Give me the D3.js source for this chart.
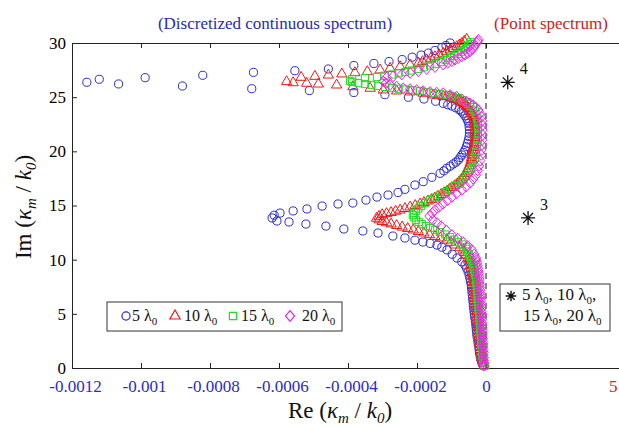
<!DOCTYPE html>
<html><head><meta charset="utf-8">
<script src="https://cdn.jsdelivr.net/npm/d3@7"></script>
<style>body{margin:0;background:#fff}svg{display:block}</style>
</head><body><svg id="c" width="619" height="429"></svg>
<script>
// ---------- data ----------
const xTicks = [-0.0012, -0.001, -0.0008, -0.0006, -0.0004, -0.0002, 0];
const xTickLabels = ["-0.0012", "-0.001", "-0.0008", "-0.0006", "-0.0004", "-0.0002", "0"];
const yTicks = [0, 5, 10, 15, 20, 25, 30];
const seriesLabels = ["5", "10", "15", "20"];

// [Re(kappa_m/k0), Im(kappa_m/k0)] for 5 lambda0 (blue circles)
const lambda5 = [[-0.08e-4,0.2],[-0.12e-4,0.5],[-0.15e-4,0.8],[-0.17e-4,1.1],[-0.19e-4,1.4],[-0.20e-4,1.7],[-0.21e-4,2.0],[-0.23e-4,2.3],[-0.24e-4,2.6],[-0.26e-4,2.9],[-0.27e-4,3.2],[-0.28e-4,3.5],[-0.29e-4,3.8],[-0.30e-4,4.1],[-0.31e-4,4.4],[-0.33e-4,4.7],[-0.34e-4,5.0],[-0.35e-4,5.3],[-0.36e-4,5.6],[-0.37e-4,5.9],[-0.38e-4,6.2],[-0.39e-4,6.5],[-0.40e-4,6.8],[-0.41e-4,7.1],[-0.42e-4,7.4],[-0.43e-4,7.7],[-0.45e-4,8.0],[-0.47e-4,8.3],[-0.49e-4,8.6],[-0.52e-4,8.9],[-0.56e-4,9.2],
[-0.61e-4,9.5],[-0.70e-4,9.8],[-0.84e-4,10.15],[-0.98e-4,10.5],[-1.13e-4,10.9],[-1.28e-4,11.15],[-1.42e-4,11.35],[-1.62e-4,11.5],[-1.83e-4,11.63],[-2.06e-4,11.8],[-2.35e-4,12.0],[-2.70e-4,12.18],[-3.13e-4,12.46],[-3.57e-4,12.65],[-4.12e-4,12.83],[-4.64e-4,13.1],[-5.22e-4,13.29],[-5.71e-4,13.48],[-6.06e-4,13.57],[-6.20e-4,13.85],[-6.14e-4,14.1],[-5.97e-4,14.3],[-5.59e-4,14.5],[-5.19e-4,14.68],[-4.75e-4,14.95],[-4.29e-4,15.14],[-3.86e-4,15.23],[-3.48e-4,15.5],[-3.16e-4,15.78],[-2.84e-4,15.97],[-2.55e-4,16.2],[-2.35e-4,16.49],[-2.06e-4,16.89],[-1.82e-4,17.2],[-1.57e-4,17.6],[-1.33e-4,17.97],[-1.22e-4,18.2],[-1.14e-4,18.43],[-1.04e-4,18.63],[-0.95e-4,18.83],[-0.87e-4,19.0],[-0.80e-4,19.2],[-0.75e-4,19.43],[-0.70e-4,19.66],[-0.65e-4,19.9],[-0.61e-4,20.12],[-0.57e-4,20.43],[-0.54e-4,20.74],[-0.51e-4,21.05],[-0.49e-4,21.35],[-0.48e-4,21.66],[-0.48e-4,21.97],[-0.49e-4,22.28],[-0.50e-4,22.59],[-0.53e-4,22.82],[-0.56e-4,23.05],[-0.61e-4,23.28],[-0.66e-4,23.51],[-0.72e-4,23.7],[-0.78e-4,23.86],[-0.88e-4,24.02],[-0.99e-4,24.18],[-1.11e-4,24.3],[-1.24e-4,24.43],[-1.46e-4,24.62],[-1.80e-4,24.83],[-2.25e-4,24.99],[-2.93e-4,25.23],[-3.83e-4,25.43],[-5.12e-4,25.61],[-6.79e-4,25.78],[-8.80e-4,26.03],[-10.65e-4,26.22],[-11.57e-4,26.37],[-11.21e-4,26.65],[-9.88e-4,26.8],[-8.21e-4,27.02],[-6.74e-4,27.29],[-5.54e-4,27.44],[-4.57e-4,27.6],[-3.83e-4,27.92],[-3.25e-4,28.11],[-2.81e-4,28.29],[-2.43e-4,28.47],[-2.14e-4,28.69],[-1.88e-4,28.89],[-1.67e-4,29.07],[-1.48e-4,29.31],[-1.28e-4,29.58],[-1.16e-4,29.77],[-1.04e-4,30.0]];

// 10 lambda0 (red triangles)
const lambda10 = [[-0.05e-4,0.2],[-0.08e-4,0.45],[-0.10e-4,0.7],[-0.12e-4,0.95],[-0.13e-4,1.2],[-0.14e-4,1.45],[-0.16e-4,1.7],[-0.17e-4,1.95],[-0.18e-4,2.2],[-0.18e-4,2.45],[-0.19e-4,2.7],[-0.20e-4,2.95],[-0.21e-4,3.2],[-0.22e-4,3.45],[-0.23e-4,3.7],[-0.24e-4,3.95],[-0.24e-4,4.2],[-0.25e-4,4.45],[-0.26e-4,4.7],[-0.27e-4,4.95],[-0.28e-4,5.2],[-0.28e-4,5.45],[-0.29e-4,5.7],[-0.30e-4,5.95],[-0.31e-4,6.2],[-0.32e-4,6.45],[-0.32e-4,6.7],[-0.33e-4,6.95],[-0.34e-4,7.2],[-0.35e-4,7.45],[-0.36e-4,7.7],[-0.36e-4,7.95],[-0.37e-4,8.2],[-0.38e-4,8.45],[-0.40e-4,8.7],[-0.41e-4,8.95],[-0.43e-4,9.2],[-0.45e-4,9.45],[-0.47e-4,9.7],[-0.50e-4,9.95],[-0.52e-4,10.15],[-0.58e-4,10.4],[-0.62e-4,10.65],[-0.66e-4,10.89],[-0.76e-4,11.1],[-0.90e-4,11.35],[-1.02e-4,11.6],[-1.14e-4,11.81],[-1.32e-4,12.0],[-1.48e-4,12.14],[-1.64e-4,12.3],[-1.80e-4,12.46],[-1.96e-4,12.6],[-2.11e-4,12.74],[-2.27e-4,12.88],[-2.43e-4,13.01],[-2.59e-4,13.15],[-2.75e-4,13.29],[-2.88e-4,13.4],[-3.01e-4,13.52],[-3.10e-4,13.67],[-3.17e-4,13.82],[-3.10e-4,14.0],[-3.01e-4,14.15],[-2.88e-4,14.25],[-2.75e-4,14.35],[-2.62e-4,14.47],[-2.49e-4,14.58],[-2.35e-4,14.72],[-2.20e-4,14.86],[-2.05e-4,15.0],[-1.91e-4,15.14],[-1.80e-4,15.28],[-1.68e-4,15.41],[-1.58e-4,15.55],[-1.48e-4,15.69],[-1.39e-4,15.85],[-1.30e-4,16.01],[-1.21e-4,16.18],[-1.13e-4,16.34],[-1.06e-4,16.5],[-0.99e-4,16.66],[-0.91e-4,16.82],[-0.84e-4,16.98],[-0.78e-4,17.17],[-0.72e-4,17.35],[-0.68e-4,17.53],[-0.64e-4,17.72],[-0.59e-4,17.95],[-0.55e-4,18.18],[-0.52e-4,18.42],[-0.49e-4,18.65],[-0.46e-4,18.92],[-0.43e-4,19.2],[-0.42e-4,19.43],[-0.41e-4,19.66],[-0.39e-4,19.9],[-0.38e-4,20.12],[-0.36e-4,20.35],[-0.35e-4,20.58],[-0.34e-4,20.8],[-0.33e-4,21.04],[-0.32e-4,21.27],[-0.32e-4,21.5],[-0.32e-4,21.75],[-0.32e-4,21.97],[-0.32e-4,22.2],[-0.32e-4,22.43],[-0.33e-4,22.6],[-0.33e-4,22.8],[-0.35e-4,23.0],[-0.36e-4,23.17],[-0.38e-4,23.33],[-0.41e-4,23.49],[-0.43e-4,23.65],[-0.46e-4,23.8],[-0.50e-4,23.95],[-0.54e-4,24.09],[-0.57e-4,24.23],[-0.61e-4,24.37],[-0.66e-4,24.46],[-0.71e-4,24.55],[-0.76e-4,24.65],[-0.81e-4,24.74],[-0.87e-4,24.81],[-0.93e-4,24.88],[-0.98e-4,24.95],[-1.04e-4,25.01],[-1.14e-4,25.04],[-1.24e-4,25.06],[-1.38e-4,25.13],[-1.53e-4,25.2],[-1.82e-4,25.36],[-2.20e-4,25.48],[-2.59e-4,25.57],[-2.98e-4,25.66],[-3.36e-4,25.82],[-3.86e-4,25.96],[-4.33e-4,26.12],[-4.86e-4,26.21],[-5.20e-4,26.28],[-5.59e-4,26.33],[-5.78e-4,26.43],[-5.36e-4,26.83],[-4.96e-4,26.92],[-4.57e-4,27.04],[-4.18e-4,27.14],[-3.80e-4,27.26],[-3.44e-4,27.35],[-3.07e-4,27.51],[-2.78e-4,27.66],[-2.49e-4,27.81],[-2.20e-4,27.97],[-1.96e-4,28.12],[-1.84e-4,28.28],[-1.72e-4,28.43],[-1.60e-4,28.58],[-1.48e-4,28.73],[-1.36e-4,28.9],[-1.24e-4,29.05],[-1.14e-4,29.2],[-1.04e-4,29.35],[-0.95e-4,29.5],[-0.85e-4,29.66],[-0.77e-4,29.82],[-0.70e-4,29.97],[-0.63e-4,30.15],[-0.56e-4,30.34]];

// 15 lambda0 (green squares)
const lambda15 = [[-0.04e-4,0.2],[-0.06e-4,0.45],[-0.08e-4,0.7],[-0.09e-4,0.95],[-0.10e-4,1.2],[-0.11e-4,1.45],[-0.11e-4,1.7],[-0.12e-4,1.95],[-0.13e-4,2.2],[-0.13e-4,2.45],[-0.14e-4,2.7],[-0.15e-4,2.95],[-0.15e-4,3.2],[-0.16e-4,3.45],[-0.17e-4,3.7],[-0.17e-4,3.95],[-0.18e-4,4.2],[-0.18e-4,4.45],[-0.19e-4,4.7],[-0.20e-4,4.95],[-0.20e-4,5.2],[-0.21e-4,5.45],[-0.22e-4,5.7],[-0.22e-4,5.95],[-0.23e-4,6.2],[-0.24e-4,6.45],[-0.24e-4,6.7],[-0.25e-4,6.95],[-0.26e-4,7.2],[-0.26e-4,7.45],[-0.27e-4,7.7],[-0.28e-4,7.95],[-0.29e-4,8.2],[-0.30e-4,8.45],[-0.32e-4,8.7],[-0.33e-4,8.95],[-0.35e-4,9.2],[-0.36e-4,9.45],[-0.39e-4,9.7],[-0.42e-4,9.95],[-0.46e-4,10.25],[-0.50e-4,10.5],[-0.54e-4,10.75],[-0.56e-4,11.0],[-0.58e-4,11.17],[-0.69e-4,11.4],[-0.81e-4,11.63],[-0.92e-4,11.86],[-1.04e-4,12.09],[-1.18e-4,12.32],[-1.33e-4,12.55],[-1.48e-4,12.74],[-1.62e-4,12.92],[-1.74e-4,13.1],[-1.86e-4,13.29],[-1.95e-4,13.48],[-2.03e-4,13.66],[-2.09e-4,13.9],[-2.12e-4,14.12],[-2.08e-4,14.3],[-2.03e-4,14.49],[-1.96e-4,14.72],[-1.88e-4,14.95],[-1.75e-4,15.22],[-1.62e-4,15.5],[-1.48e-4,15.74],[-1.33e-4,15.97],[-1.19e-4,16.24],[-1.04e-4,16.52],[-0.91e-4,16.8],[-0.78e-4,17.08],[-0.68e-4,17.4],[-0.58e-4,17.72],[-0.50e-4,18.1],[-0.43e-4,18.46],[-0.37e-4,18.92],[-0.32e-4,19.38],[-0.29e-4,19.9],[-0.26e-4,20.49],[-0.24e-4,21.05],[-0.23e-4,21.6],[-0.23e-4,22.1],[-0.23e-4,22.61],[-0.25e-4,23.03],[-0.28e-4,23.44],[-0.33e-4,23.77],[-0.38e-4,24.09],[-0.46e-4,24.32],[-0.55e-4,24.55],[-0.68e-4,24.74],[-0.81e-4,24.92],[-0.98e-4,25.06],[-1.16e-4,25.2],[-1.35e-4,25.29],[-1.54e-4,25.38],[-1.72e-4,25.48],[-1.91e-4,25.57],[-2.13e-4,25.64],[-2.35e-4,25.71],[-2.53e-4,25.78],[-2.72e-4,25.84],[-2.92e-4,25.94],[-3.13e-4,26.03],[-3.32e-4,26.12],[-3.51e-4,26.21],[-3.70e-4,26.3],[-3.88e-4,26.4],[-3.94e-4,26.5],[-3.88e-4,26.68],[-3.51e-4,26.77],[-3.16e-4,26.86],[-2.94e-4,26.98],[-2.72e-4,27.09],[-2.53e-4,27.2],[-2.35e-4,27.32],[-2.16e-4,27.46],[-1.97e-4,27.6],[-1.80e-4,27.76],[-1.62e-4,27.92],[-1.46e-4,28.08],[-1.30e-4,28.24],[-1.17e-4,28.42],[-1.04e-4,28.61],[-0.92e-4,28.8],[-0.81e-4,28.98],[-0.72e-4,29.16],[-0.64e-4,29.35],[-0.58e-4,29.53],[-0.52e-4,29.72],[-0.47e-4,29.9],[-0.43e-4,30.09]];

// 20 lambda0 (magenta diamonds)
const lambda20 = [[-0.05e-4,0.2],[-0.05e-4,0.45],[-0.06e-4,0.7],[-0.06e-4,0.95],[-0.07e-4,1.2],[-0.07e-4,1.45],[-0.08e-4,1.7],[-0.08e-4,1.95],[-0.08e-4,2.2],[-0.09e-4,2.45],[-0.09e-4,2.7],[-0.10e-4,2.95],[-0.10e-4,3.2],[-0.10e-4,3.45],[-0.11e-4,3.7],[-0.11e-4,3.95],[-0.12e-4,4.2],[-0.12e-4,4.45],[-0.12e-4,4.7],[-0.13e-4,4.95],[-0.13e-4,5.2],[-0.14e-4,5.45],[-0.14e-4,5.7],[-0.15e-4,5.95],[-0.15e-4,6.2],[-0.16e-4,6.45],[-0.16e-4,6.7],[-0.17e-4,6.95],[-0.17e-4,7.2],[-0.18e-4,7.45],[-0.18e-4,7.7],[-0.19e-4,7.95],[-0.19e-4,8.2],[-0.20e-4,8.45],[-0.21e-4,8.7],[-0.22e-4,8.95],[-0.23e-4,9.2],[-0.25e-4,9.45],[-0.26e-4,9.7],[-0.28e-4,9.95],[-0.29e-4,10.15],[-0.34e-4,10.5],[-0.41e-4,10.9],[-0.52e-4,11.25],[-0.67e-4,11.63],[-0.82e-4,11.95],[-0.99e-4,12.28],[-1.15e-4,12.7],[-1.30e-4,13.1],[-1.42e-4,13.4],[-1.54e-4,13.66],[-1.64e-4,14.03],[-1.56e-4,14.3],[-1.48e-4,14.58],[-1.36e-4,14.86],[-1.25e-4,15.14],[-1.12e-4,15.46],[-0.99e-4,15.78],[-0.85e-4,16.1],[-0.70e-4,16.43],[-0.58e-4,16.75],[-0.46e-4,17.08],[-0.37e-4,17.45],[-0.29e-4,17.81],[-0.24e-4,18.23],[-0.20e-4,18.65],[-0.17e-4,19.15],[-0.14e-4,19.66],[-0.13e-4,20.12],[-0.12e-4,20.58],[-0.11e-4,21.04],[-0.10e-4,21.5],[-0.10e-4,21.96],[-0.10e-4,22.43],[-0.11e-4,22.8],[-0.13e-4,23.17],[-0.17e-4,23.5],[-0.22e-4,23.81],[-0.30e-4,24.05],[-0.38e-4,24.27],[-0.47e-4,24.43],[-0.56e-4,24.58],[-0.70e-4,24.8],[-0.85e-4,25.04],[-1.04e-4,25.2],[-1.24e-4,25.36],[-1.43e-4,25.42],[-1.62e-4,25.48],[-1.82e-4,25.57],[-2.01e-4,25.66],[-2.20e-4,25.74],[-2.40e-4,25.82],[-2.59e-4,25.97],[-2.78e-4,26.12],[-2.90e-4,26.3],[-2.98e-4,26.46],[-2.88e-4,26.81],[-2.69e-4,26.92],[-2.44e-4,27.09],[-2.20e-4,27.23],[-1.96e-4,27.39],[-1.72e-4,27.6],[-1.48e-4,27.78],[-1.24e-4,28.01],[-1.11e-4,28.16],[-0.99e-4,28.31],[-0.90e-4,28.46],[-0.80e-4,28.61],[-0.70e-4,28.76],[-0.61e-4,28.92],[-0.53e-4,29.08],[-0.46e-4,29.23],[-0.40e-4,29.42],[-0.35e-4,29.6],[-0.31e-4,29.8],[-0.27e-4,30.0],[-0.24e-4,30.15],[-0.22e-4,30.3]];

// point spectrum (same for all lengths): [Re, Im, mode index]
const pointSpectrum = [[0.63e-4, 26.37, "4"], [1.22e-4, 13.85, "3"]];

// ---------- drawing ----------
const SERIF = "'Liberation Serif','Times New Roman',Times,serif";
const svg = d3.select("#c");
const x = d3.scaleLinear().domain([-0.0012, 0.0004]).range([72, 624]);
const y = d3.scaleLinear().domain([0, 30]).range([368, 43]);

// axes
const gB = svg.append("g").attr("transform", `translate(0,${y(0)})`)
  .call(d3.axisBottom(x).tickValues(xTicks).tickFormat((d, i) => xTickLabels[i])
    .tickSizeInner(-5).tickSizeOuter(0).tickPadding(12));
gB.attr("font-family", null).attr("font-size", null);
gB.selectAll("text").style("font-family", SERIF).style("font-size", "17px").attr("fill", "#2a2ad0")
  .attr("dx", d => d === 0 ? 0 : 3);
const gT = svg.append("g").attr("transform", `translate(0,${y(30)})`)
  .call(d3.axisTop(x).tickValues(xTicks).tickFormat("").tickSizeInner(-5).tickSizeOuter(0));
const gL = svg.append("g").attr("transform", `translate(${x(-0.0012)},0)`)
  .call(d3.axisLeft(y).tickValues(yTicks).tickFormat(d3.format("d"))
    .tickSizeInner(-5).tickSizeOuter(0).tickPadding(6));
gL.attr("font-family", null).attr("font-size", null);
gL.selectAll("text").style("font-family", SERIF).style("font-size", "17px").attr("fill", "#000");
[gB, gT, gL].forEach(g => { g.selectAll("line,path").attr("stroke", "#222"); });

// red label of the point-spectrum axis at the right edge
svg.append("text").attr("x", 609).attr("y", 392).style("font-family", SERIF)
  .style("font-size", "17px").attr("fill", "#e02020").text("5");

// zero line
svg.append("line").attr("x1", x(0)).attr("x2", x(0)).attr("y1", y(30)).attr("y2", y(0))
  .attr("stroke", "#111").attr("stroke-width", 1).attr("stroke-dasharray", "6,4");

// symbols
const diamondType = { draw(ctx, size) { const w = 4.6, h = 5.4; ctx.moveTo(0, -h); ctx.lineTo(w, 0); ctx.lineTo(0, h); ctx.lineTo(-w, 0); ctx.closePath(); } };
const asteriskType = { draw(ctx, size) { const r = Math.sqrt(size) / 2; const d = r * Math.SQRT1_2;
  ctx.moveTo(-r, 0); ctx.lineTo(r, 0); ctx.moveTo(0, -r); ctx.lineTo(0, r);
  ctx.moveTo(-d, -d); ctx.lineTo(d, d); ctx.moveTo(-d, d); ctx.lineTo(d, -d); } };
const circleSym = d3.symbol().type(d3.symbolCircle).size(52);
const triSym = d3.symbol().type(d3.symbolTriangle).size(46);
const squareSym = d3.symbol().type(d3.symbolSquare).size(52);
const diamondSym = d3.symbol().type(diamondType).size(60);

const series = [
  { data: lambda5, color: "#2a2ad6", sym: circleSym },
  { data: lambda10, color: "#f01818", sym: triSym },
  { data: lambda15, color: "#22dd22", sym: squareSym },
  { data: lambda20, color: "#f020f0", sym: diamondSym }
];
series.forEach(s => {
  svg.append("g").selectAll("path").data(s.data).join("path")
    .attr("transform", d => `translate(${x(d[0])},${y(d[1])})`)
    .attr("d", s.sym()).attr("fill", "none").attr("stroke", s.color).attr("stroke-width", 1);
});

// point spectrum stars
const starSym = d3.symbol().type(asteriskType).size(196);
svg.append("g").selectAll("path").data(pointSpectrum).join("path")
  .attr("transform", d => `translate(${x(d[0])},${y(d[1])})`)
  .attr("d", starSym()).attr("fill", "none").attr("stroke", "#111").attr("stroke-width", 1.3);
svg.append("g").selectAll("text").data(pointSpectrum).join("text")
  .attr("x", d => x(d[0]) + 12).attr("y", d => y(d[1]) - 8)
  .style("font-family", SERIF).style("font-size", "16px").attr("fill", "#111").text(d => d[2]);

// titles
svg.append("text").attr("x", 275).attr("y", 29).attr("text-anchor", "middle")
  .style("font-family", SERIF).style("font-size", "17px").attr("fill", "#2a2ab8")
  .text("(Discretized continuous spectrum)");
svg.append("text").attr("x", 551).attr("y", 29).attr("text-anchor", "middle")
  .style("font-family", SERIF).style("font-size", "17px").attr("fill", "#d02020")
  .text("(Point spectrum)");

// rich text helper: parts = [text, sub?, italic?]
function rich(sel, parts, subSize, drop) {
  let down = false;
  parts.forEach(p => {
    const t = sel.append("tspan").text(p[0]);
    if (p[1]) { t.style("font-size", subSize + "px"); if (!down) { t.attr("dy", drop); down = true; } }
    else if (down) { t.attr("dy", -drop); down = false; }
    if (p[2]) t.style("font-style", "italic");
  });
}

// axis labels
const xl = svg.append("text").attr("x", 340).attr("y", 418).attr("text-anchor", "middle")
  .style("font-family", SERIF).style("font-size", "23px").attr("fill", "#111");
rich(xl, [["Re ("], ["κ", false, true], ["m", true, true], [" / "], ["k", false, true], ["0", true, true], [")"]], 15, 5);
const yl = svg.append("text").attr("transform", "translate(31,207) rotate(-90)").attr("text-anchor", "middle")
  .style("font-family", SERIF).style("font-size", "23px").attr("fill", "#111");
rich(yl, [["Im ("], ["κ", false, true], ["m", true, true], [" / "], ["k", false, true], ["0", true, true], [")"]], 15, 5);

// legend 1
const lg = svg.append("g");
lg.append("rect").attr("x", 107).attr("y", 302).attr("width", 235).attr("height", 29)
  .attr("fill", "#fff").attr("stroke", "#333").attr("stroke-width", 1);
const legendItems = [
  { sym: circleSym, color: "#2a2ad6", sx: 126, tx: 132 },
  { sym: triSym, color: "#f01818", sx: 175, tx: 184 },
  { sym: squareSym, color: "#22dd22", sx: 233, tx: 241 },
  { sym: diamondSym, color: "#f020f0", sx: 290, tx: 302 }
];
legendItems.forEach((it, i) => {
  lg.append("path").attr("transform", `translate(${it.sx},316)`).attr("d", it.sym())
    .attr("fill", "none").attr("stroke", it.color).attr("stroke-width", 1.2);
  const t = lg.append("text").attr("x", it.tx).attr("y", 321).style("font-family", SERIF)
    .style("font-size", "16px").attr("fill", "#111");
  rich(t, [[seriesLabels[i] + " λ"], ["0", true]], 11, 4);
});

// legend 2
const lg2 = svg.append("g");
lg2.append("rect").attr("x", 500).attr("y", 284).attr("width", 110).attr("height", 47)
  .attr("fill", "#fff").attr("stroke", "#333").attr("stroke-width", 1);
lg2.append("path").attr("transform", "translate(511,296)").attr("d", d3.symbol().type(asteriskType).size(110)())
  .attr("fill", "none").attr("stroke", "#111").attr("stroke-width", 1.4);
const l2a = lg2.append("text").attr("x", 522).attr("y", 300).style("font-family", SERIF).style("font-size", "17px").attr("fill", "#111");
rich(l2a, [[seriesLabels[0] + " λ"], ["0", true], [", " + seriesLabels[1] + " λ"], ["0", true], [","]], 11, 4);
const l2b = lg2.append("text").attr("x", 523).attr("y", 321).style("font-family", SERIF).style("font-size", "17px").attr("fill", "#111");
rich(l2b, [[seriesLabels[2] + " λ"], ["0", true], [", " + seriesLabels[3] + " λ"], ["0", true]], 11, 4);
</script>
</body></html>
